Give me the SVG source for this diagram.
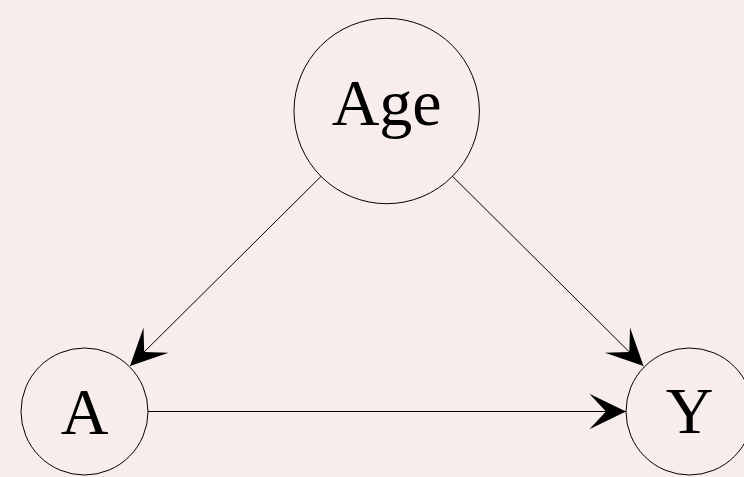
<svg xmlns="http://www.w3.org/2000/svg" width="744" height="477" viewBox="0 0 744 477">
<style>
.node{fill:none;stroke:#000;stroke-width:1}
.lbl{font-family:"Liberation Serif","Times New Roman",serif;font-size:66px;fill:#000;text-anchor:middle}
.edge{stroke:#000;stroke-width:1;fill:none;marker-end:url(#arr)}
</style>
<defs>
<marker id="arr" markerUnits="userSpaceOnUse" markerWidth="40" markerHeight="40" viewBox="-34 -18 36 36" refX="0" refY="0" orient="auto">
<path d="M0,0 L-33,-16 L-18,0 L-33,16 Z" fill="#000"/>
</marker>
</defs>
<rect width="744" height="477" fill="#f7edeb"/>
<g id="edges">
<line class="edge" x1="321" y1="176.4" x2="130" y2="366"/>
<line class="edge" x1="452.5" y1="176.3" x2="643.5" y2="366"/>
<line class="edge" x1="148" y1="411.5" x2="626" y2="411.5"/>
</g>
<g id="Age">
<circle class="node" cx="386.7" cy="111" r="92.7"/>
<text class="lbl" x="386.7" y="125">Age</text>
</g>
<g id="A">
<circle class="node" cx="84.5" cy="411.5" r="63.5"/>
<text class="lbl" x="84.5" y="434">A</text>
</g>
<g id="Y">
<circle class="node" cx="689.5" cy="411.5" r="63.5"/>
<text class="lbl" x="689.5" y="433">Y</text>
</g>
</svg>
